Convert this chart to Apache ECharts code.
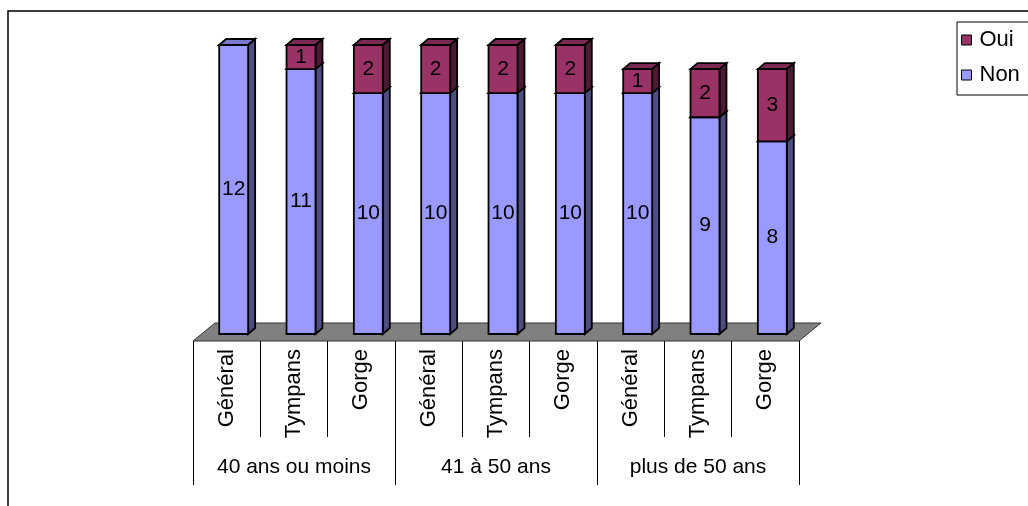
<!DOCTYPE html>
<html>
<head>
<meta charset="utf-8">
<script src="https://cdn.jsdelivr.net/npm/echarts@6/dist/echarts.min.js"></script>
<style>
  html, body { margin: 0; padding: 0; background: #fff; }
  #chart { width: 1028px; height: 506px; }
</style>
</head>
<body>
<div id="chart"></div>
<script>
var groups = ['40 ans ou moins', '41 à 50 ans', 'plus de 50 ans'];
var categories = ['Général', 'Tympans', 'Gorge', 'Général', 'Tympans', 'Gorge', 'Général', 'Tympans', 'Gorge'];
var non = [12, 11, 10, 10, 10, 10, 10, 9, 8];
var oui = [0, 1, 2, 2, 2, 2, 1, 2, 3];

var font = '"Liberation Sans", Arial, sans-serif';
var DX = 7, DY = 6;

function darken(c, f) {
    var n = parseInt(c.slice(1), 16);
    var r = Math.round(((n >> 16) & 255) * f),
        g = Math.round(((n >> 8) & 255) * f),
        b = Math.round((n & 255) * f);
    return 'rgb(' + r + ',' + g + ',' + b + ')';
}

function boxItem(color) {
    return function (params, api) {
        var v = api.value(2);
        if (!v) return;
        var base = api.value(1);
        var p0 = api.coord([api.value(0), base]);
        var p1 = api.coord([api.value(0), base + v]);
        var bw = api.size([1, 0])[0] * 0.43;
        var xl = p0[0] - bw / 2, xr = p0[0] + bw / 2;
        var stroke = { stroke: '#000', lineWidth: 1.8 };
        return {
            type: 'group',
            children: [
                {
                    type: 'polygon',
                    shape: { points: [[xl, p1[1]], [xl + DX, p1[1] - DY], [xr + DX, p1[1] - DY], [xr, p1[1]]] },
                    style: Object.assign({ fill: darken(color, 0.8) }, stroke)
                },
                {
                    type: 'polygon',
                    shape: { points: [[xr, p1[1]], [xr + DX, p1[1] - DY], [xr + DX, p0[1] - DY], [xr, p0[1]]] },
                    style: Object.assign({ fill: darken(color, 0.5) }, stroke)
                },
                {
                    type: 'rect',
                    shape: { x: xl, y: p1[1], width: bw, height: p0[1] - p1[1] },
                    style: Object.assign({ fill: color }, stroke)
                },
                {
                    type: 'text',
                    style: {
                        text: String(v), x: p0[0], y: (p0[1] + p1[1]) / 2,
                        align: 'center', verticalAlign: 'middle',
                        fontSize: 21, fontFamily: font, fill: '#000'
                    }
                }
            ]
        };
    };
}

function floorItem(params, api) {
    var band = api.size([1, 0])[0];
    var c = api.coord([0, 0]);
    var left = c[0] - band / 2, right = left + categories.length * band;
    var y = c[1];
    return {
        type: 'polygon',
        shape: { points: [[left - 7, y + 7], [left + 15, y - 11], [right + 15, y - 11], [right - 7, y + 7]] },
        style: { fill: '#808080', stroke: '#333', lineWidth: 1 }
    };
}

var chart = echarts.init(document.getElementById('chart'));

chart.setOption({
    animation: false,
    graphic: [{
        type: 'rect',
        shape: { x: 8, y: 11, width: 1100, height: 600 },
        style: { fill: 'none', stroke: '#000', lineWidth: 1.5 },
        silent: true
    }],
    legend: {
        data: ['Oui', 'Non'],
        orient: 'vertical',
        left: 957,
        top: 22,
        padding: [7, 60, 9, 4],
        itemGap: 13,
        itemWidth: 10,
        itemHeight: 10,
        icon: 'rect',
        borderColor: '#000',
        borderWidth: 1,
        itemStyle: { borderColor: '#000', borderWidth: 1 },
        textStyle: { fontSize: 22, fontFamily: font, color: '#000', padding: [0, 0, 0, 3] }
    },
    grid: [
        { left: 200, right: 222, top: 45, bottom: 172 },
        { left: 193, right: 229, top: 340, height: 1 }
    ],
    xAxis: [
        { type: 'category', gridIndex: 0, data: categories, show: false },
        {
            type: 'category', gridIndex: 1, data: categories,
            axisLine: { show: false },
            axisTick: { show: true, interval: 0, length: 96, lineStyle: { color: '#000', width: 1 } },
            axisLabel: { interval: 0, rotate: 90, margin: 8, fontSize: 22, fontFamily: font, color: '#000' }
        },
        {
            type: 'category', gridIndex: 1, data: groups, position: 'bottom',
            axisLine: { show: false },
            axisTick: { show: true, interval: 0, length: 144, lineStyle: { color: '#000', width: 1 } },
            axisLabel: { interval: 0, margin: 116, fontSize: 21, fontFamily: font, color: '#000' }
        }
    ],
    yAxis: [
        { type: 'value', gridIndex: 0, min: 0, max: 12, show: false },
        { type: 'value', gridIndex: 1, show: false }
    ],
    series: [
        {
            name: 'floor', type: 'custom', xAxisIndex: 0, yAxisIndex: 0,
            renderItem: floorItem, data: [[0, 0]], silent: true
        },
        {
            name: 'Non', type: 'custom', xAxisIndex: 0, yAxisIndex: 0,
            itemStyle: { color: '#9999FF' },
            renderItem: boxItem('#9999FF'),
            encode: { x: 0, y: 1 },
            data: non.map(function (v, i) { return [i, 0, v]; })
        },
        {
            name: 'Oui', type: 'custom', xAxisIndex: 0, yAxisIndex: 0,
            itemStyle: { color: '#993366' },
            renderItem: boxItem('#993366'),
            encode: { x: 0, y: 1 },
            data: oui.map(function (v, i) { return [i, non[i], v]; })
        }
    ]
});
</script>
</body>
</html>
